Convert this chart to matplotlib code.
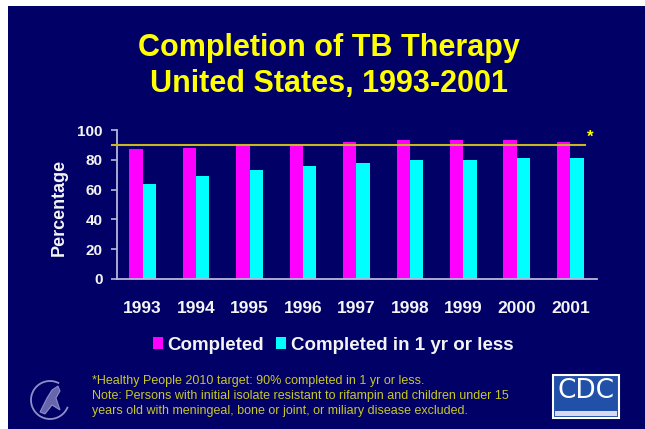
import matplotlib
matplotlib.use("Agg")
import matplotlib.pyplot as plt
from matplotlib.patches import Rectangle, Arc, Polygon
import numpy as np

plt.rcParams['font.family'] = ['Liberation Sans', 'DejaVu Sans']

years = ['1993', '1994', '1995', '1996', '1997', '1998', '1999', '2000', '2001']
completed = [87, 88, 90, 90, 92, 93, 93, 93, 92]
completed_1yr = [64, 69, 73, 76, 78, 80, 80, 81, 81]
target = 90
yticks = [0, 20, 40, 60, 80, 100]
series_names = ['Completed', 'Completed in 1 yr or less']
title_lines = ['Completion of TB Therapy', 'United States, 1993-2001']
footnotes = ['*Healthy People 2010 target: 90% completed in 1 yr or less.',
             'Note: Persons with initial isolate resistant to rifampin and children under 15',
             'years old with meningeal, bone or joint, or miliary disease excluded.']

W, H = 645, 429
NAVY = '#000066'
MAG = '#ff00ff'
CYAN = '#00ffff'
YEL = '#ffff00'
AXC = '#b8b8d8'

fig = plt.figure(figsize=(W / 100, H / 100), dpi=100)
fig.patch.set_facecolor('white')
fig.patches.append(Rectangle((8 / W, 0), 1 - 8 / W, 1 - 6 / H, transform=fig.transFigure,
                             facecolor=NAVY, edgecolor='none', zorder=-10))

ax = fig.add_axes([117 / W, 1 - 279 / H, 480 / W, 149 / H])
ax.set_facecolor('none')
ax.set_zorder(5)
x = np.arange(len(years))
bw = 0.25
ax.bar(x - bw / 2, completed, bw, color=MAG, label=series_names[0], zorder=2)
ax.bar(x + bw / 2, completed_1yr, bw, color=CYAN, label=series_names[1], zorder=2)
ax.axhline(target, xmin=-5 / 480, xmax=(585 - 117) / 480, color='#c8b820', lw=1.5,
           clip_on=False, zorder=3)
ax.text((590 - 117) / 480, (279 - 137.7) / 149, '*', transform=ax.transAxes, color=YEL,
        fontsize=12, fontweight='bold', ha='center', va='center')

ax.set_xlim(-0.48, 8.5)
ax.set_ylim(0, 100)
ax.set_yticks(yticks)
ax.set_xticks(x)
ax.set_xticklabels(years)
for s in ['top', 'right']:
    ax.spines[s].set_visible(False)
for s in ['left', 'bottom']:
    ax.spines[s].set_color(AXC)
    ax.spines[s].set_linewidth(1.3)
ax.tick_params(axis='y', colors=AXC, length=4, width=1.2, pad=6.5, labelsize=11,
               labelcolor='#f4f4f4')
ax.tick_params(axis='x', length=0, pad=16, labelsize=12.5, labelcolor='#f4f4f4')
for lab in ax.get_xticklabels() + ax.get_yticklabels():
    lab.set_fontweight('bold')

fig.text(59 / W, 1 - 207 / H, 'Percentage', rotation=90, ha='center', va='center',
         color='#f4f4f4', fontsize=13, fontweight='bold')

fig.text(329 / W, 1 - 48 / H, title_lines[0], ha='center', va='center', color=YEL,
         fontsize=22, fontweight='bold')
fig.text(329 / W, 1 - 84 / H, title_lines[1], ha='center', va='center', color=YEL,
         fontsize=22, fontweight='bold')

leg = ax.legend(loc='center', bbox_to_anchor=(333 / W, 1 - 345 / H), bbox_transform=fig.transFigure,
                ncol=2, frameon=False, handlelength=0.55, handleheight=0.55, handletextpad=0.25,
                columnspacing=0.6, prop={'size': 13.5, 'weight': 'bold'}, borderpad=0, borderaxespad=0)
for t in leg.get_texts():
    t.set_color('#f4f4f4')

for i, line in enumerate(footnotes):
    fig.text(92 / W, 1 - (381 + 15 * i) / H, line, ha='left', va='center',
             color='#c8c828', fontsize=9)

# CDC logo
fig.patches.append(Rectangle((553 / W, 1 - 418 / H), 66 / W, 43 / H, transform=fig.transFigure,
                             facecolor='#2150a8', edgecolor='white', lw=1.5, zorder=1))
fig.patches.append(Rectangle((555 / W, 1 - 416 / H), 62 / W, 5 / H, transform=fig.transFigure,
                             facecolor='#d8d8f0', edgecolor='none', zorder=2))
fig.text(586 / W, 1 - 391 / H, 'CDC', ha='center', va='center', color='white',
         fontsize=19, family='DejaVu Sans')

# HHS logo (simplified)
fig.patches.append(Arc((50 / W, 1 - 400 / H), 38 / W, 38 / H, theta1=70, theta2=330,
                       transform=fig.transFigure, color='#9090c8', lw=1.3))
eagle = [(40, 412), (47, 398), (52, 390), (58, 386), (60, 391), (56, 398), (60, 410), (52, 405), (45, 414)]
fig.patches.append(Polygon([(px / W, 1 - py / H) for px, py in eagle], closed=True,
                           transform=fig.transFigure, facecolor='#8080c0', edgecolor='#a0a0d8',
                           lw=0.8, alpha=0.8))

fig.savefig('out.png', dpi=100, facecolor=fig.get_facecolor())
